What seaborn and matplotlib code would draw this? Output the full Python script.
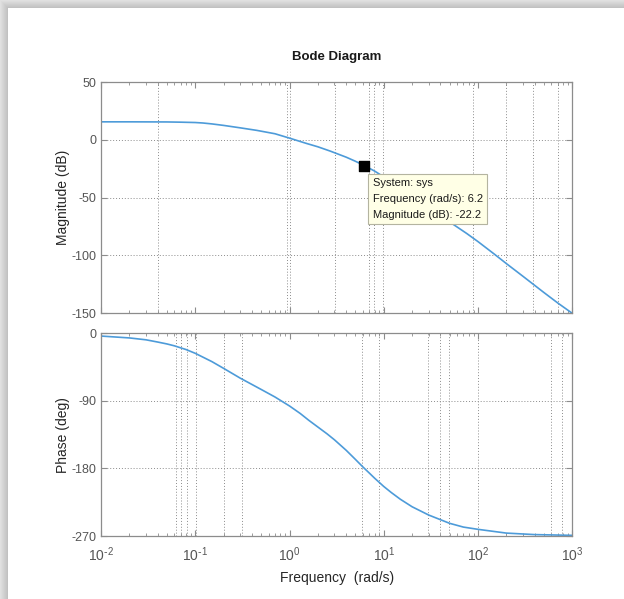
import numpy as np
import matplotlib
matplotlib.use('Agg')
import matplotlib.pyplot as plt
import seaborn as sns

# values
mag_freq = [0.01, 0.02, 0.05, 0.07, 0.1, 0.12, 0.15, 0.2, 0.3, 0.45, 0.7, 1.0, 1.5, 2.0, 2.7,
            4.0, 5.0, 6.2, 8.0, 10, 15, 20, 30, 50, 76, 100, 150, 200, 300, 500, 700, 1000]
mag_db = [15.6, 15.6, 15.5, 15.3, 15.0, 14.6, 13.8, 12.5, 10.4, 8.2, 5.3, 1.5, -3.0, -6.0, -9.7,
          -15.0, -18.5, -22.2, -27.0, -32, -41, -48, -58, -71, -81, -88, -99, -107, -118, -132, -141, -150]

phase_freq = [0.01, 0.02, 0.03, 0.04, 0.05, 0.06, 0.08, 0.1, 0.15, 0.2, 0.3, 0.5, 0.7, 1.0,
              1.3, 1.6, 2.0, 2.5, 3.0, 4.0, 5.0, 6.0, 7.0, 8.0, 10, 12, 15, 20, 30, 50, 70, 100,
              200, 400, 1000]
phase_deg = [-4, -6.5, -9, -12, -14.5, -17, -22, -27, -38, -47, -60, -75, -85, -97,
             -107, -116, -125, -134, -142, -156, -168, -178, -186, -193, -204, -212, -221, -231, -242, -253, -258, -261,
             -266, -268, -269]

mag_ticks = [50, 0, -50, -100, -150]
phase_ticks = [0, -90, -180, -270]
freq_ticks = [1e-2, 1e-1, 1e0, 1e1, 1e2, 1e3]
freq_labels = [r'$10^{\text{-}2}$', r'$10^{\text{-}1}$', '$10^{0}$', '$10^{1}$', '$10^{2}$', '$10^{3}$']

# data tip
tip_freq = 6.2
tip_mag = -22.2

sns.set_style('ticks')
plt.rcParams['font.family'] = ['Liberation Sans', 'DejaVu Sans']
plt.rcParams['mathtext.default'] = 'regular'
plt.rcParams['axes.unicode_minus'] = False

line_color = '#4d9bd9'
tick_color = '#555555'
frame_color = '#8c8c8c'

fig = plt.figure(figsize=(6.24, 5.99), dpi=100)

# window shadow along the top and left edges
bg = fig.add_axes([0, 0, 1, 1], zorder=-5)
h, w = 599, 624
yy, xx = np.mgrid[0:h, 0:w]
d = np.minimum(xx, yy).astype(float)
shade = np.where(d < 8, 0.88 - 0.12 * (d / 7.0), 1.0)
bg.imshow(np.dstack([shade] * 3), aspect='auto', extent=[0, 1, 0, 1], origin='upper')
bg.set_xlim(0, 1)
bg.set_ylim(0, 1)
bg.axis('off')

ax1 = fig.add_axes([0.162, 0.477, 0.755, 0.386])
ax2 = fig.add_axes([0.162, 0.105, 0.755, 0.339])

sns.lineplot(x=mag_freq, y=mag_db, ax=ax1, color=line_color, linewidth=1.2)
sns.lineplot(x=phase_freq, y=phase_deg, ax=ax2, color=line_color, linewidth=1.2)

for ax in (ax1, ax2):
    ax.set_xscale('log')
    ax.set_xlim(1e-2, 1e3)
    ax.set_xticks(freq_ticks)
    ax.tick_params(axis='both', which='both', direction='in', top=True, right=True,
                   colors=frame_color, labelcolor=tick_color, labelsize=9)
    ax.tick_params(which='major', length=4)
    ax.tick_params(which='minor', length=2)
    ax.tick_params(axis='x', pad=7, labelsize=10)
    for s in ax.spines.values():
        s.set_color(frame_color)
        s.set_linewidth(0.9)

ax1.set_ylim(-150, 50)
ax1.set_yticks(mag_ticks)
ax1.set_xticklabels([])
ax1.set_ylabel('Magnitude (dB)', fontsize=10, color='#262626', labelpad=1)
ax1.set_title('Bode Diagram', fontsize=9.5, fontweight='bold', color='#1a1a1a', pad=16)

ax2.set_ylim(-270, 0)
ax2.set_yticks(phase_ticks)
ax2.set_xticklabels(freq_labels)
ax2.set_ylabel('Phase (deg)', fontsize=10, color='#262626', labelpad=1)
ax2.set_xlabel('Frequency  (rad/s)', fontsize=10, color='#262626', labelpad=5)

# dotted grid as in the reference
grid_kw = dict(color='#8c8c8c', linestyle=(0, (1, 2)), linewidth=0.7, zorder=0)
for yv in [0, -50, -100]:
    ax1.axhline(yv, **grid_kw)
for xv in [0.04, 0.935, 1.01, 3.05, 7.0, 7.9, 9.8, 89, 198, 385, 710]:
    ax1.axvline(xv, **grid_kw)
for yv in [-90, -180]:
    ax2.axhline(yv, **grid_kw)
for xv in [0.062, 0.0707, 0.081, 0.102, 0.204, 0.31, 5.94, 9.0, 29.8, 39.8, 49.4, 100, 598, 778]:
    ax2.axvline(xv, **grid_kw)

# data tip marker and box
ax1.scatter([tip_freq], [tip_mag], marker='s', s=55, color='black', zorder=5)
ax1.annotate('System: sys\nFrequency (rad/s): 6.2\nMagnitude (dB): -22.2',
             xy=(tip_freq, tip_mag), xytext=(6, -9), textcoords='offset points',
             ha='left', va='top', fontsize=8, color='#1a1a1a', linespacing=1.75,
             bbox=dict(boxstyle='square,pad=0.4', facecolor='#ffffe6', edgecolor='#b4b4a0', linewidth=0.8),
             zorder=6)

plt.savefig('out.png', dpi=100)
